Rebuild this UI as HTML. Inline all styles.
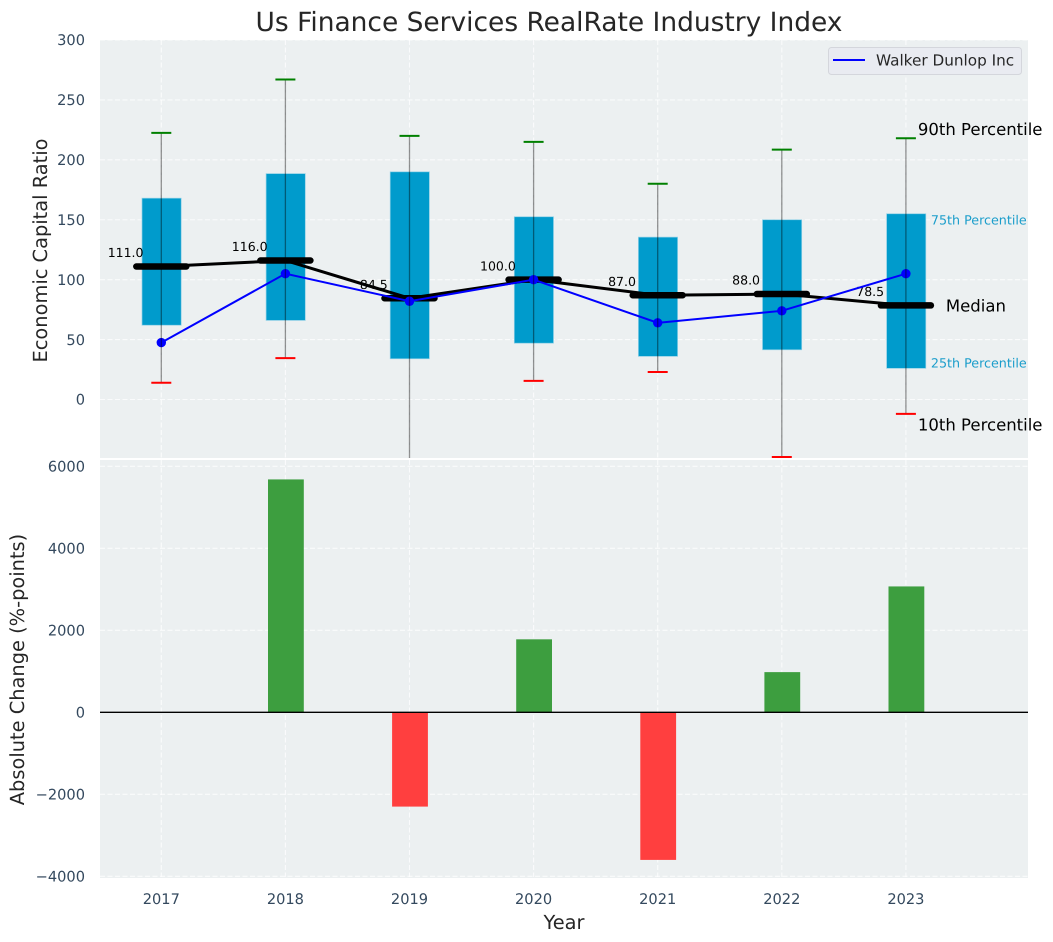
<!DOCTYPE html>
<html lang="en">
<head>
<meta charset="utf-8">
<title>Us Finance Services RealRate Industry Index</title>
<style>
html,body{margin:0;padding:0;background:#fff;width:1053px;height:942px;overflow:hidden}
svg{display:block;font-family:"DejaVu Sans","Liberation Sans",sans-serif;text-rendering:geometricPrecision}
.tick{font-size:14.6px;fill:#34495e}
.axis-title{font-size:19.4px;fill:#262626}
.note{font-size:16.5px;fill:#000}
.small-note{font-size:12.7px;fill:#1a9dcb}
.value{font-size:12.5px;fill:#000}
</style>
</head>
<body>
<svg id="chart" width="1053" height="942" viewBox="0 0 1053 942" xmlns="http://www.w3.org/2000/svg">
  <defs>
    <clipPath id="top-clip"><rect x="100" y="40" width="928" height="418"/></clipPath>
    <clipPath id="bottom-clip"><rect x="100" y="460" width="928" height="418"/></clipPath>
  </defs>
  <rect x="100" y="40" width="928" height="418" fill="#ecf0f1"/>
  <rect x="100" y="460" width="928" height="418" fill="#ecf0f1"/>
  <g id="grid"></g>
  <g id="ticks"></g>
  <g id="top-marks" clip-path="url(#top-clip)"></g>
  <g id="bottom-marks" clip-path="url(#bottom-clip)"></g>
  <g id="notes"></g>
  <text x="549" y="31" text-anchor="middle" font-size="26.45" fill="#262626">Us Finance Services RealRate Industry Index</text>
  <text class="axis-title" transform="translate(47 250.5) rotate(-90)" text-anchor="middle">Economic Capital Ratio</text>
  <text class="axis-title" transform="translate(24 669.5) rotate(-90)" text-anchor="middle">Absolute Change (%-points)</text>
  <text class="axis-title" x="564" y="929" text-anchor="middle">Year</text>
  <g>
    <rect x="828.5" y="47.5" width="193" height="27" rx="3" fill="#e9ebf1" stroke="#d4d6dc" stroke-width="1"/>
    <line x1="833" x2="865" y1="60" y2="60" stroke="#0000ff" stroke-width="2"/>
    <text x="876" y="65.5" font-size="15.25" fill="#262626">Walker Dunlop Inc</text>
  </g>
</svg>
<script>
const years = [2017, 2018, 2019, 2020, 2021, 2022, 2023];
const p90 = [222.5, 267, 220, 215, 180, 208.5, 218];
const q3 = [168, 188.5, 190, 152.5, 135.5, 150, 155];
const medians = [111, 116, 84.5, 100, 87, 88, 78.5];
const q1 = [62, 66, 34, 47, 36, 41.5, 26];
const p10 = [14, 34.5, -70, 15.5, 23, -48, -12];
const company = [47.5, 105, 82, 100, 64, 74, 105];
const changes = [0, 5680, -2300, 1780, -3600, 980, 3070];
const topTicks = [0, 50, 100, 150, 200, 250, 300];
const bottomTicks = [-4000, -2000, 0, 2000, 4000, 6000];

const x = function (year) { return 161.3 + (year - 2017) * 124.1; };
const yTop = function (value) { return 399.5 - value * 1.1983; };
const yBottom = function (value) { return 712.3 - value * 0.041; };

const NS = 'http://www.w3.org/2000/svg';
function make(parent, tag, attrs, text) {
  const el = document.createElementNS(NS, tag);
  for (const key in attrs) { el.setAttribute(key, attrs[key]); }
  if (text !== undefined) { el.textContent = text; }
  parent.appendChild(el);
  return el;
}
const grid = document.getElementById('grid');
const ticks = document.getElementById('ticks');
const top_ = document.getElementById('top-marks');
const bottom = document.getElementById('bottom-marks');
const notes = document.getElementById('notes');
const dash = { stroke: '#ffffff', 'stroke-opacity': 0.75, 'stroke-width': 1.1, 'stroke-dasharray': '5 2.5' };

topTicks.forEach(function (t) {
  const gl = make(grid, 'line', Object.assign({ x1: 100, x2: 1028, y1: yTop(t), y2: yTop(t) }, dash));
  
  
  const lb = make(ticks, 'text', { class: 'tick', x: 85, y: yTop(t) + 5.2, 'text-anchor': 'end' }, String(t));
  
  
});
bottomTicks.forEach(function (t) {
  const gl = make(grid, 'line', Object.assign({ x1: 100, x2: 1028, y1: yBottom(t), y2: yBottom(t) }, dash));
  
  
  const label = t < 0 ? '\u2212' + Math.abs(t) : String(t);
  const lb = make(ticks, 'text', { class: 'tick', x: 85, y: yBottom(t) + 5.2, 'text-anchor': 'end' }, label);
  
  
});
years.forEach(function (yr) {
  const g1 = make(grid, 'line', Object.assign({ x1: x(yr), x2: x(yr), y1: 40, y2: 458 }, dash));
  
  
  const g2 = make(grid, 'line', Object.assign({ x1: x(yr), x2: x(yr), y1: 460, y2: 877 }, dash));
  
  
  const lb = make(ticks, 'text', { class: 'tick', x: x(yr), y: 904, 'text-anchor': 'middle' }, String(yr));
  
  
});

/* interquartile boxes */
years.forEach(function (yr, i) {
  const box = make(top_, 'rect', { x: x(yr) - 19.3, y: yTop(q3[i]), width: 39.2, height: yTop(q1[i]) - yTop(q3[i]), fill: '#009bcc', stroke: '#8fd0e6', 'stroke-width': 0.7 });
  
  
});
/* median value labels */
years.forEach(function (yr, i) {
  const lb = make(top_, 'text', { class: 'value', x: x(yr) - 35.7, y: yTop(medians[i]) - 9.3, 'text-anchor': 'middle' }, medians[i].toFixed(1));
  
  
});
/* median trend line */
const medianLine = make(top_, 'polyline', { points: years.map(function (yr, i) { return x(yr) + ',' + yTop(medians[i]); }).join(' '), fill: 'none', stroke: '#000', 'stroke-width': 3 });


/* median bars */
years.forEach(function (yr, i) {
  const m = make(top_, 'line', { x1: x(yr) - 25, x2: x(yr) + 25, y1: yTop(medians[i]), y2: yTop(medians[i]), stroke: '#000', 'stroke-width': 6.5, 'stroke-linecap': 'round' });
  
  
});
/* company series */
const companyLine = make(top_, 'polyline', { points: years.map(function (yr, i) { return x(yr) + ',' + yTop(company[i]); }).join(' '), fill: 'none', stroke: '#0000ff', 'stroke-width': 2 });


years.forEach(function (yr, i) {
  const p = make(top_, 'circle', { cx: x(yr), cy: yTop(company[i]), r: 4.7, fill: '#0000ff' });
  
  
});
/* whiskers and caps */
years.forEach(function (yr, i) {
  const w = make(top_, 'line', { x1: x(yr), x2: x(yr), y1: yTop(p90[i]), y2: yTop(p10[i]), stroke: '#000', 'stroke-opacity': 0.42, 'stroke-width': 1.3 });
  
  
  const hi = make(top_, 'line', { x1: x(yr) - 10, x2: x(yr) + 10, y1: yTop(p90[i]), y2: yTop(p90[i]), stroke: '#008000', 'stroke-width': 2 });
  
  
  const lo = make(top_, 'line', { x1: x(yr) - 10, x2: x(yr) + 10, y1: yTop(p10[i]), y2: yTop(p10[i]), stroke: '#ff0000', 'stroke-width': 2 });
  
  
});
/* change bars */
years.forEach(function (yr, i) {
  const v = changes[i];
  if (v === 0) { return; }
  const y0 = yBottom(Math.max(v, 0));
  const y1 = yBottom(Math.min(v, 0));
  const bar = make(bottom, 'rect', { x: x(yr) - 17.4, y: y0, width: 35.8, height: y1 - y0, fill: v > 0 ? '#3d9e3f' : '#ff3f3f' });
  
  
});
const zero = make(bottom, 'line', { x1: 100, x2: 1028, y1: yBottom(0), y2: yBottom(0), stroke: '#000', 'stroke-width': 1.4 });



/* annotations attached to the last year */
const last = years.length - 1;
const xLast = x(years[last]);
const n90 = make(notes, 'text', { class: 'note', x: xLast + 12, y: yTop(p90[last]) - 3.3 }, '90th Percentile');


const n75 = make(notes, 'text', { class: 'small-note', x: xLast + 25, y: yTop(q3[last]) + 10.5 }, '75th Percentile');


const n50 = make(notes, 'text', { class: 'note', x: xLast + 40, y: yTop(medians[last]) + 6.2 }, 'Median');


const n25 = make(notes, 'text', { class: 'small-note', x: xLast + 25, y: yTop(q1[last]) - 1 }, '25th Percentile');


const n10 = make(notes, 'text', { class: 'note', x: xLast + 12, y: yTop(p10[last]) + 16.5 }, '10th Percentile');


</script>
</body>
</html>
